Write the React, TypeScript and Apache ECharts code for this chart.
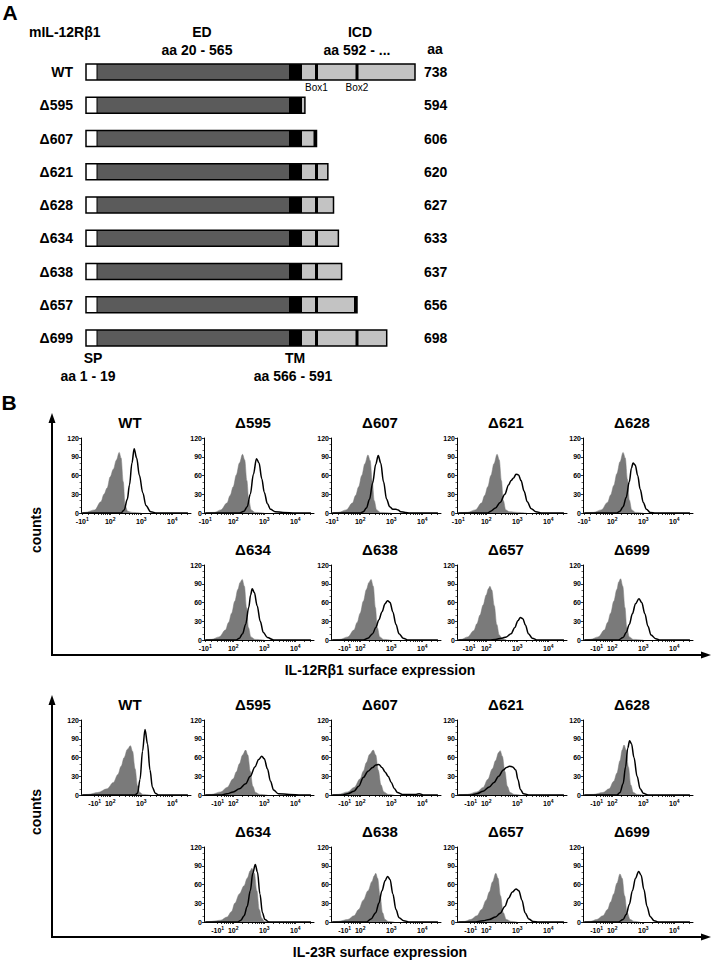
import React, { useEffect, useRef } from "react";
import * as echarts from "echarts";

// ---------- Panel A data ----------
const constructs = ["WT", "Δ595", "Δ607", "Δ621", "Δ628", "Δ634", "Δ638", "Δ657", "Δ699"];
const constructEnds = [738, 594, 606, 620, 627, 633, 637, 656, 698];
const spEnd = 19;
const edEnd = 565;
const tmEnd = 591;
const boxPositions = [606, 656];
const boxLabels = ["Box1", "Box2"];
// schematic (not to scale) axis breakpoints: amino acid -> drawing units
const schemAa = [0, 19, 565, 591, 606, 656, 738];
const schemUnits = [0, 11, 203, 216, 230.5, 271, 329];

// ---------- Panel B data (x in decades of fluorescence, y in counts) ----------
const panelNames = ["WT", "Δ595", "Δ607", "Δ621", "Δ628", "Δ634", "Δ638", "Δ657", "Δ699"];
const xTickLabels = ["-10", "10", "10", "10"];
const il12NegTick = [1.1, 1.1, 1.1, 1.1, 1.1, 1.1, 1.5, 1.45, 1.5];
const il23NegTick = [1.5, 1.5, 1.5, 1.5, 1.5, 1.5, 1.5, 1.5, 1.5];

const il12Isotype: number[][][] = [
  [[1.06,0],[1.2,1],[1.5,5],[1.7,18],[1.8,30],[1.9,40],[2.0,58],[2.1,70],[2.2,85],[2.29,97],[2.35,88],[2.42,50],[2.48,12],[2.56,3],[2.7,1],[3.0,0]],
  [[1.06,0],[1.4,1],[1.6,5],[1.8,16],[1.9,28],[2.0,42],[2.1,61],[2.2,80],[2.3,94],[2.37,85],[2.44,52],[2.5,21],[2.58,5],[2.7,1],[3.0,0]],
  [[1.06,0],[1.3,1],[1.55,5],[1.75,16],[1.85,28],[1.95,42],[2.05,60],[2.15,79],[2.25,93],[2.32,84],[2.39,51],[2.45,20],[2.53,5],[2.65,1],[3.0,0]],
  [[1.06,0],[1.4,1],[1.65,5],[1.85,16],[1.95,28],[2.05,42],[2.15,60],[2.25,79],[2.35,94],[2.42,85],[2.49,52],[2.55,20],[2.63,5],[2.75,2],[3.0,1],[3.3,0]],
  [[1.06,0],[1.4,1],[1.65,5],[1.85,17],[1.95,29],[2.05,44],[2.15,63],[2.25,82],[2.35,97],[2.42,88],[2.49,54],[2.55,21],[2.63,5],[2.75,1],[3.0,0]],
  [[1.06,0],[1.3,1],[1.55,5],[1.75,16],[1.85,28],[1.95,43],[2.05,62],[2.15,81],[2.22,92],[2.29,97],[2.36,86],[2.43,52],[2.49,20],[2.57,5],[2.7,1],[3.0,0]],
  [[1.06,0],[1.35,1],[1.6,5],[1.8,16],[1.9,28],[2.0,43],[2.1,62],[2.2,81],[2.28,92],[2.35,97],[2.42,86],[2.49,52],[2.55,20],[2.63,5],[2.75,1],[3.0,0]],
  [[1.06,0],[1.2,1],[1.4,5],[1.6,15],[1.7,26],[1.8,40],[1.9,56],[2.0,72],[2.07,82],[2.12,86],[2.18,80],[2.26,55],[2.34,25],[2.42,8],[2.52,2],[2.65,0]],
  [[1.06,0],[1.3,1],[1.55,5],[1.75,16],[1.85,28],[1.95,43],[2.05,62],[2.15,81],[2.21,93],[2.27,98],[2.34,86],[2.41,52],[2.47,20],[2.55,5],[2.68,1],[3.0,0]],
];

const il12Stained: number[][][] = [
  [[1.1,0],[2.35,0],[2.45,5],[2.55,22],[2.62,45],[2.7,80],[2.77,103],[2.85,88],[2.94,60],[3.05,32],[3.15,12],[3.3,2],[3.5,0],[4.5,0]],
  [[1.1,0],[2.2,0],[2.35,3],[2.45,10],[2.55,30],[2.65,62],[2.75,87],[2.83,80],[2.92,55],[3.0,33],[3.1,15],[3.2,6],[3.35,2],[3.6,1],[4.0,0],[4.5,0]],
  [[1.1,0],[2.0,0],[2.1,2],[2.2,8],[2.3,22],[2.4,48],[2.5,78],[2.58,92],[2.66,80],[2.75,50],[2.85,22],[2.95,10],[3.05,6],[3.15,6],[3.22,5],[3.3,2],[3.45,1],[3.6,0],[4.5,0]],
  [[1.1,0],[2.05,0],[2.15,3],[2.3,8],[2.45,17],[2.6,30],[2.72,45],[2.8,52],[2.88,56],[2.96,62],[3.04,61],[3.12,52],[3.22,35],[3.32,18],[3.45,7],[3.6,2],[3.8,0],[4.5,0]],
  [[1.1,0],[2.15,0],[2.25,3],[2.35,10],[2.45,25],[2.55,50],[2.62,72],[2.67,80],[2.74,77],[2.82,60],[2.9,38],[3.0,17],[3.1,6],[3.22,1],[3.4,0],[4.5,0]],
  [[1.1,0],[2.1,0],[2.2,3],[2.3,10],[2.4,25],[2.5,52],[2.56,72],[2.61,82],[2.68,76],[2.77,55],[2.87,30],[2.97,12],[3.1,4],[3.3,0],[4.5,0]],
  [[1.1,0],[2.1,0],[2.25,3],[2.4,10],[2.5,20],[2.6,32],[2.7,45],[2.8,58],[2.88,63],[2.96,60],[3.05,45],[3.15,25],[3.25,10],[3.38,3],[3.55,0],[4.5,0]],
  [[1.1,0],[2.1,0],[2.3,1],[2.5,3],[2.65,5],[2.8,10],[2.92,20],[3.02,31],[3.1,36],[3.18,34],[3.26,24],[3.36,10],[3.48,3],[3.65,0],[4.5,0]],
  [[1.1,0],[2.2,0],[2.35,4],[2.45,12],[2.55,25],[2.65,42],[2.75,58],[2.86,66],[2.95,60],[3.05,42],[3.15,22],[3.25,8],[3.4,2],[3.55,0],[4.5,0]],
];

const il23Isotype: number[][][] = [
  [[1.06,0],[1.3,1],[1.6,4],[1.9,10],[2.1,20],[2.25,33],[2.35,46],[2.45,60],[2.55,73],[2.65,79],[2.72,70],[2.8,42],[2.88,15],[2.95,4],[3.05,1],[3.3,0]],
  [[1.06,0],[1.3,1],[1.6,5],[1.8,12],[2.0,26],[2.1,37],[2.2,50],[2.3,64],[2.4,72],[2.47,64],[2.55,38],[2.63,14],[2.72,4],[2.85,1],[3.1,0]],
  [[1.06,0],[1.3,1],[1.6,5],[1.8,12],[2.0,26],[2.1,38],[2.2,52],[2.3,65],[2.42,72],[2.5,64],[2.58,40],[2.67,16],[2.76,5],[2.9,1],[3.1,0]],
  [[1.06,0],[1.4,1],[1.7,5],[1.9,12],[2.05,25],[2.2,42],[2.3,55],[2.4,68],[2.45,71],[2.52,62],[2.6,38],[2.68,14],[2.77,4],[2.9,1],[3.1,0]],
  [[1.06,0],[1.4,1],[1.7,4],[1.9,10],[2.05,22],[2.15,35],[2.25,55],[2.32,72],[2.38,80],[2.45,72],[2.52,45],[2.6,16],[2.68,4],[2.8,1],[3.0,0]],
  [[1.06,0],[1.3,1],[1.6,3],[1.8,8],[1.95,17],[2.05,30],[2.2,45],[2.35,58],[2.45,70],[2.55,82],[2.6,86],[2.68,78],[2.76,50],[2.84,20],[2.92,6],[3.0,1],[3.2,0]],
  [[1.06,0],[1.3,1],[1.6,4],[1.8,10],[1.95,20],[2.1,35],[2.25,50],[2.38,65],[2.45,74],[2.5,78],[2.56,70],[2.64,42],[2.72,15],[2.8,4],[2.9,1],[3.1,0]],
  [[1.06,0],[1.3,1],[1.5,4],[1.7,10],[1.85,20],[2.0,35],[2.1,48],[2.2,64],[2.31,78],[2.38,70],[2.46,42],[2.55,15],[2.65,4],[2.8,1],[3.0,0]],
  [[1.06,0],[1.3,1],[1.5,4],[1.7,10],[1.85,20],[1.95,32],[2.05,45],[2.15,62],[2.25,77],[2.32,70],[2.4,42],[2.48,15],[2.58,4],[2.7,1],[2.9,0]],
];

const il23Stained: number[][][] = [
  [[1.1,0],[2.8,0],[2.88,3],[2.96,25],[3.04,70],[3.12,105],[3.2,82],[3.28,40],[3.36,12],[3.45,3],[3.55,0],[4.5,0]],
  [[1.1,0],[1.6,0],[1.8,2],[2.0,5],[2.2,10],[2.4,18],[2.55,30],[2.7,45],[2.82,57],[2.92,62],[3.0,58],[3.1,42],[3.2,22],[3.3,8],[3.45,2],[3.8,1],[4.2,0],[4.5,0]],
  [[1.1,0],[1.4,0],[1.6,2],[1.8,6],[1.95,14],[2.1,28],[2.25,38],[2.4,44],[2.5,48],[2.6,49],[2.7,44],[2.8,37],[2.9,30],[3.0,20],[3.1,10],[3.2,4],[3.35,1],[3.8,1],[3.9,2],[4.05,0],[4.5,0]],
  [[1.1,0],[1.5,0],[1.7,2],[1.9,6],[2.1,13],[2.25,20],[2.4,30],[2.55,40],[2.65,44],[2.75,46],[2.85,45],[2.95,40],[3.02,25],[3.1,9],[3.2,2],[3.4,0],[4.5,0]],
  [[1.1,0],[2.15,0],[2.25,4],[2.35,18],[2.43,45],[2.5,75],[2.56,87],[2.62,82],[2.7,60],[2.8,30],[2.9,10],[3.0,3],[3.15,0],[4.5,0]],
  [[1.1,0],[2.15,0],[2.25,3],[2.35,10],[2.45,25],[2.55,50],[2.63,78],[2.71,92],[2.78,80],[2.86,45],[2.94,15],[3.02,4],[3.15,0],[4.5,0]],
  [[1.1,0],[2.2,0],[2.35,5],[2.5,15],[2.6,30],[2.7,50],[2.8,66],[2.88,73],[2.96,68],[3.05,45],[3.15,20],[3.25,7],[3.4,2],[3.6,0],[4.5,0]],
  [[1.1,0],[1.6,0],[1.9,2],[2.1,4],[2.3,8],[2.45,14],[2.6,25],[2.72,38],[2.84,48],[2.96,53],[3.05,50],[3.15,35],[3.25,15],[3.37,5],[3.5,1],[3.7,0],[4.5,0]],
  [[1.1,0],[2.2,0],[2.35,4],[2.45,12],[2.55,28],[2.65,50],[2.75,70],[2.85,81],[2.93,75],[3.02,52],[3.12,25],[3.22,9],[3.35,2],[3.5,0],[4.5,0]],
];

const yTicks = [0, 30, 60, 90, 120];

// ---------- styling / layout ----------
const FONT = "'Liberation Sans', Arial, Helvetica, sans-serif";
const ED_COLOR = "#5b5b5b";
const ICD_COLOR = "#c3c3c3";
const ISO_COLOR = "#7a7a7a";
const colX = [81, 204, 331, 457, 583];
const rowZeroY = [513, 640, 795, 922];
const plotW = 110;
const plotH = 75;
const dMin = 1.06;
const dMax = 4.6;
const gridAX = 86;

function schem(aa: number): number {
  for (let i = 1; i < schemAa.length; i++) {
    if (aa <= schemAa[i]) {
      const t = (aa - schemAa[i - 1]) / (schemAa[i] - schemAa[i - 1]);
      return schemUnits[i - 1] + t * (schemUnits[i] - schemUnits[i - 1]);
    }
  }
  return schemUnits[schemUnits.length - 1];
}

function tickValues(neg: number): number[] {
  const v: number[] = [neg];
  for (let k = 1; k <= 4; k++) {
    for (let m = 1; m <= 9; m++) {
      const d = k + Math.log10(m);
      if (d > neg + 0.08 && d <= dMax) v.push(d);
    }
  }
  return v;
}

function txt(text: string, x: number, y: number, size: number, opts: any = {}) {
  return {
    type: "text",
    x,
    y,
    rotation: opts.rotation || 0,
    silent: true,
    style: {
      text,
      fill: "#000",
      font: `${opts.weight || "bold"} ${size}px ${FONT}`,
      textAlign: opts.align || "center",
      textVerticalAlign: "middle",
      align: opts.align || "center",
      verticalAlign: "middle",
    },
  };
}

function buildOption() {
  const grid: any[] = [];
  const xAxis: any[] = [];
  const yAxis: any[] = [];
  const series: any[] = [];
  const graphic: any[] = [];

  // ----- Panel A -----
  const bandH = 33.25;
  grid.push({ left: gridAX, top: 72 - bandH / 2, width: schemUnits[schemUnits.length - 1], height: bandH * constructs.length });
  xAxis.push({ type: "value", gridIndex: 0, min: 0, max: schemUnits[schemUnits.length - 1], show: false });
  const catLabel = { color: "#000", fontWeight: "bold", fontSize: 14, fontFamily: FONT };
  yAxis.push({
    type: "category", gridIndex: 0, data: constructs, inverse: true,
    axisLine: { show: false }, axisTick: { show: false }, splitLine: { show: false },
    axisLabel: { ...catLabel, margin: 13 },
  });
  yAxis.push({
    type: "category", gridIndex: 0, data: constructEnds.map(String), inverse: true, position: "right",
    axisLine: { show: false }, axisTick: { show: false }, splitLine: { show: false },
    axisLabel: { ...catLabel, margin: 9 },
  });
  series.push({
    type: "custom",
    xAxisIndex: 0,
    yAxisIndex: 0,
    data: constructEnds.map((e, i) => [schem(e), i, e]),
    encode: { x: 0, y: 1 },
    renderItem: (_p: any, api: any) => {
      const i = api.value(1) as number;
      const end = api.value(2) as number;
      const yc = api.coord([0, i])[1];
      const X = (aa: number) => api.coord([schem(aa), i])[0];
      const h = 16;
      const top = yc - h / 2;
      const children: any[] = [];
      const segs: [number, number, string][] = [
        [0, spEnd, "#ffffff"],
        [spEnd, edEnd, ED_COLOR],
        [edEnd, tmEnd, "#000000"],
        [tmEnd, end, ICD_COLOR],
      ];
      segs.forEach(([a, b, c]) => {
        const bb = Math.min(b, end);
        if (bb > a) children.push({ type: "rect", shape: { x: X(a), y: top, width: X(bb) - X(a), height: h }, style: { fill: c } });
      });
      children.push({ type: "line", shape: { x1: X(spEnd), y1: top, x2: X(spEnd), y2: top + h }, style: { stroke: "#000", lineWidth: 1 } });
      boxPositions.forEach((b) => {
        if (b <= end) {
          const right = Math.min(X(b) + 1.5, X(end));
          children.push({ type: "rect", shape: { x: right - 3, y: top, width: 3, height: h }, style: { fill: "#000" } });
        }
      });
      children.push({ type: "rect", shape: { x: X(0), y: top, width: X(end) - X(0), height: h }, style: { fill: "none", stroke: "#000", lineWidth: 1.5 } });
      return { type: "group", children };
    },
    silent: true,
    z: 2,
  });

  graphic.push(txt("A", 10, 12, 21));
  graphic.push(txt("mIL-12Rβ1", 29, 32, 14, { align: "left" }));
  graphic.push(txt("ED", 202, 32, 14));
  graphic.push(txt("aa 20 - 565", 197, 50, 14));
  graphic.push(txt("ICD", 360, 32, 14));
  graphic.push(txt("aa 592 - ...", 357, 50, 14));
  graphic.push(txt("aa", 435, 49, 14));
  boxPositions.forEach((b, k) => graphic.push(txt(boxLabels[k], gridAX + schem(b), 87, 10, { weight: "normal" })));
  graphic.push(txt("SP", 93, 358, 14));
  graphic.push(txt("aa 1 - 19", 88, 376, 14));
  graphic.push(txt("TM", 295, 358, 14));
  graphic.push(txt("aa 566 - 591", 293, 376, 14));
  graphic.push(txt("B", 9, 402, 21));

  // ----- Panel B -----
  const assays = [
    { iso: il12Isotype, st: il12Stained, neg: il12NegTick, rowBase: 0 },
    { iso: il23Isotype, st: il23Stained, neg: il23NegTick, rowBase: 2 },
  ];
  assays.forEach((as) => {
    panelNames.forEach((name, p) => {
      const row = as.rowBase + (p < 5 ? 0 : 1);
      const col = p < 5 ? p : p - 4;
      const gi = grid.length;
      const zero = rowZeroY[row];
      grid.push({ left: colX[col], top: zero - plotH, width: plotW, height: plotH });
      const neg = as.neg[p];
      xAxis.push({
        type: "value", gridIndex: gi, min: dMin, max: dMax,
        axisLine: { show: true, onZero: false, lineStyle: { color: "#000", width: 1 } },
        axisTick: { show: true, length: 2, customValues: tickValues(neg), lineStyle: { color: "#000", width: 0.8 } },
        splitLine: { show: false },
        axisLabel: {
          customValues: [neg, 2, 3, 4],
          margin: 3,
          formatter: (v: number) => {
            const k = v < 1.95 ? 0 : Math.round(v) - 1;
            const exp = v < 1.95 ? 1 : Math.round(v);
            return `{b|${xTickLabels[k]}}{s|${exp}}`;
          },
          rich: {
            b: { fontSize: 7, fontWeight: "bold", fontFamily: FONT, color: "#000", verticalAlign: "bottom" },
            s: { fontSize: 5, fontWeight: "bold", fontFamily: FONT, color: "#000", verticalAlign: "bottom", padding: [0, 0, 4, 0] },
          },
        },
      });
      yAxis.push({
        type: "value", gridIndex: gi, min: yTicks[0], max: yTicks[yTicks.length - 1], interval: yTicks[1] - yTicks[0],
        axisLine: { show: true, lineStyle: { color: "#000", width: 1 } },
        axisTick: { show: true, length: 2, lineStyle: { color: "#000", width: 0.8 } },
        minorTick: { show: true, splitNumber: 3, length: 1.5, lineStyle: { color: "#000", width: 0.6 } },
        splitLine: { show: false },
        axisLabel: { fontSize: 7, fontWeight: "bold", fontFamily: FONT, color: "#000", margin: 2 },
      });
      const yi = yAxis.length - 1;
      series.push({
        type: "line", xAxisIndex: gi, yAxisIndex: yi, data: as.iso[p],
        smooth: 0.35, smoothMonotone: "x", showSymbol: false, symbol: "none",
        lineStyle: { width: 0.5, color: ISO_COLOR },
        areaStyle: { color: ISO_COLOR, opacity: 1 },
        silent: true, z: 2,
      });
      series.push({
        type: "line", xAxisIndex: gi, yAxisIndex: yi, data: as.st[p],
        smooth: 0.35, smoothMonotone: "x", showSymbol: false, symbol: "none",
        lineStyle: { width: 1.5, color: "#000" },
        silent: true, z: 3,
      });
      graphic.push(txt(name, colX[col] + 49, zero - plotH - 16, 15));
    });
  });

  // big axes with arrows
  const blocks = [
    { tip: 413, base: 655, label: "IL-12Rβ1 surface expression", countsY: 530 },
    { tip: 695, base: 937, label: "IL-23R surface expression", countsY: 812 },
  ];
  blocks.forEach((b) => {
    graphic.push({ type: "line", silent: true, shape: { x1: 52, y1: b.tip + 8, x2: 52, y2: b.base }, style: { stroke: "#000", lineWidth: 2 } });
    graphic.push({ type: "polygon", silent: true, shape: { points: [[52, b.tip], [48.5, b.tip + 10], [55.5, b.tip + 10]] }, style: { fill: "#000" } });
    graphic.push({ type: "line", silent: true, shape: { x1: 51, y1: b.base, x2: 703, y2: b.base }, style: { stroke: "#000", lineWidth: 2 } });
    graphic.push({ type: "polygon", silent: true, shape: { points: [[711, b.base], [701, b.base - 3.5], [701, b.base + 3.5]] }, style: { fill: "#000" } });
    graphic.push(txt(b.label, 380, b.base + 15, 14));
    graphic.push(txt("counts", 36, b.countsY, 14, { rotation: Math.PI / 2 }));
  });

  return {
    animation: false,
    backgroundColor: "#ffffff",
    grid,
    xAxis,
    yAxis,
    series,
    graphic,
  };
}

export default function App() {
  const ref = useRef<HTMLDivElement>(null);
  useEffect(() => {
    if (!ref.current) return;
    const chart = echarts.init(ref.current, undefined, { renderer: "svg" });
    chart.setOption(buildOption() as any);
    return () => chart.dispose();
  }, []);
  return (
    <div
      ref={ref}
      style={{ position: "absolute", left: 0, top: 0, width: 712, height: 960, background: "#fff" }}
    />
  );
}
